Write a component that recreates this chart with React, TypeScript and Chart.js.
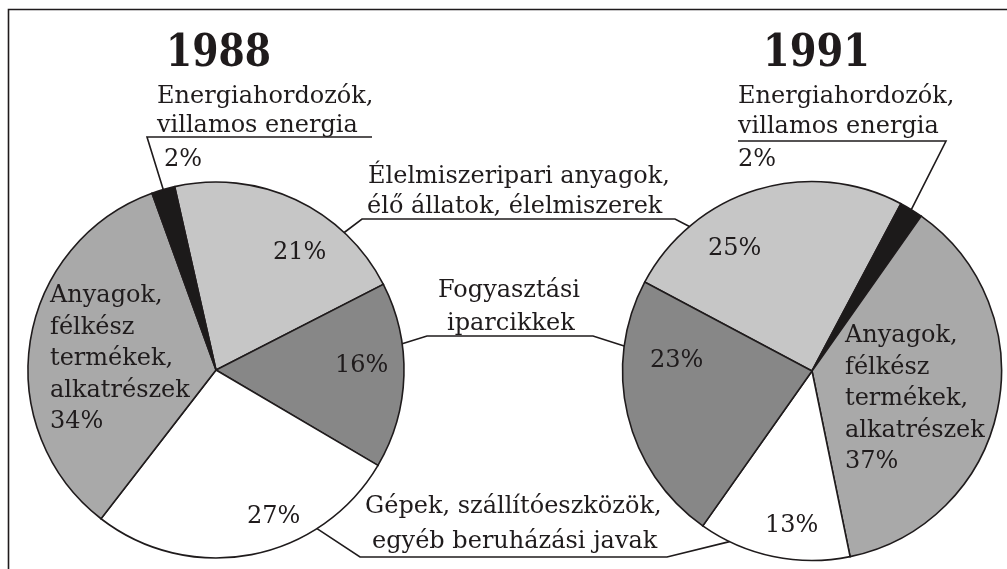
import React, { useEffect, useRef } from "react";
import { Chart, registerables } from "chart.js";
Chart.register(...registerables);

// ---- data ----
const categories = [
  "Élelmiszeripari anyagok, élő állatok, élelmiszerek",
  "Fogyasztási iparcikkek",
  "Gépek, szállítóeszközök, egyéb beruházási javak",
  "Anyagok, félkész termékek, alkatrészek",
  "Energiahordozók, villamos energia",
];
const years = ["1988", "1991"];
const values1988 = [21, 16, 27, 34, 2];
const values1991 = [25, 23, 13, 37, 2];
const sliceColors = ["#c6c6c6", "#878787", "#ffffff", "#a9a9a9", "#1c1a1a"];
// drawing order (clockwise) of the categories in each pie
const order1988 = [0, 1, 2, 3, 4];
const order1991 = [0, 4, 3, 2, 1];

const W = 1007;
const H = 569;
const INK = "#1f1b1c";
const FONT = '24px "DejaVu Serif"';
const TITLE_FONT = 'bold 45px "DejaVu Serif"';

function arcGeom(chart: any, catIdx: number, order: number[]) {
  const el = chart.getDatasetMeta(0).data[order.indexOf(catIdx)];
  return el.getProps(["x", "y", "startAngle", "endAngle", "outerRadius"], true);
}
function anglePt(chart: any, deg: number) {
  const el = chart.getDatasetMeta(0).data[0];
  const { x, y, outerRadius } = el.getProps(["x", "y", "outerRadius"], true);
  const a = ((deg - 90) * Math.PI) / 180;
  return [x + outerRadius * Math.cos(a), y + outerRadius * Math.sin(a)];
}
function midPt(chart: any, catIdx: number, order: number[]) {
  const g = arcGeom(chart, catIdx, order);
  const a = (g.startAngle + g.endAngle) / 2;
  return [g.x + g.outerRadius * Math.cos(a), g.y + g.outerRadius * Math.sin(a)];
}
function poly(ctx: CanvasRenderingContext2D, pts: number[][]) {
  ctx.beginPath();
  ctx.moveTo(pts[0][0], pts[0][1]);
  for (let i = 1; i < pts.length; i++) ctx.lineTo(pts[i][0], pts[i][1]);
  ctx.stroke();
}
function text(ctx: CanvasRenderingContext2D, s: string, x: number, y: number, font = FONT) {
  ctx.font = font;
  ctx.fillText(s, x, y);
}
function title(ctx: CanvasRenderingContext2D, s: string, x: number, y: number, targetWidth: number) {
  ctx.save();
  ctx.font = TITLE_FONT;
  const w = ctx.measureText(s).width;
  ctx.translate(x, y);
  ctx.scale(targetWidth / w, 1);
  ctx.fillText(s, 0, 0);
  ctx.restore();
}

const LW = 1.6;

const leftAnnot = {
  id: "leftAnnot",
  afterDraw(chart: any) {
    const ctx: CanvasRenderingContext2D = chart.ctx;
    const v = values1988;
    ctx.save();
    ctx.fillStyle = INK;
    ctx.strokeStyle = INK;
    ctx.textBaseline = "alphabetic";
    // frame
    ctx.lineWidth = 1.6;
    poly(ctx, [[8.5, H], [8.5, 9.5], [W, 9.5]]);
    ctx.lineWidth = LW;
    // title
    title(ctx, years[0], 166, 66, 105);
    // energy
    text(ctx, "Energiahordozók,", 157, 103);
    text(ctx, "villamos energia", 157, 132);
    poly(ctx, [midPt(chart, 4, order1988), [147, 137], [372, 137]]);
    text(ctx, v[4] + "%", 164, 166);
    // percents
    text(ctx, v[0] + "%", 273, 259);
    text(ctx, v[1] + "%", 335, 372);
    text(ctx, v[2] + "%", 247, 523);
    const an = ["Anyagok,", "félkész", "termékek,", "alkatrészek", v[3] + "%"];
    an.forEach((s, i) => text(ctx, s, 50, 302 + i * 31.5));
    // shared labels
    text(ctx, "Élelmiszeripari anyagok,", 368, 183);
    text(ctx, "élő állatok, élelmiszerek", 367, 213);
    text(ctx, "Fogyasztási", 438, 297);
    text(ctx, "iparcikkek", 447, 330);
    text(ctx, "Gépek, szállítóeszközök,", 365, 513);
    text(ctx, "egyéb beruházási javak", 372, 548);
    // left halves of connectors
    poly(ctx, [anglePt(chart, 43), [362, 219], [520, 219]]);
    poly(ctx, [anglePt(chart, 82), [427, 336], [510, 336]]);
    poly(ctx, [anglePt(chart, 147.5), [360, 557], [514, 557]]);
    ctx.restore();
  },
};

const rightAnnot = {
  id: "rightAnnot",
  afterDraw(chart: any) {
    const ctx: CanvasRenderingContext2D = chart.ctx;
    const v = values1991;
    ctx.save();
    ctx.fillStyle = INK;
    ctx.strokeStyle = INK;
    ctx.lineWidth = LW;
    title(ctx, years[1], 763, 66, 107);
    text(ctx, "Energiahordozók,", 738, 103);
    text(ctx, "villamos energia", 738, 133);
    poly(ctx, [[738, 141], [946, 141], midPt(chart, 4, order1991)]);
    text(ctx, v[4] + "%", 738, 166);
    text(ctx, v[0] + "%", 708, 255);
    text(ctx, v[1] + "%", 650, 367);
    text(ctx, v[2] + "%", 765, 532);
    const an = ["Anyagok,", "félkész", "termékek,", "alkatrészek", v[3] + "%"];
    an.forEach((s, i) => text(ctx, s, 845, 342 + i * 31.5));
    // right halves of connectors
    poly(ctx, [[520, 219], [675, 219], anglePt(chart, 319.7)]);
    poly(ctx, [[510, 336], [593, 336], anglePt(chart, 277.6)]);
    poly(ctx, [[514, 557], [667, 557], anglePt(chart, 205.8)]);
    ctx.restore();
  },
};

function makePie(canvas: HTMLCanvasElement, values: number[], order: number[], rotation: number,
  cx: number, cy: number, r: number, plugin: any) {
  const pad = r + 3;
  return new Chart(canvas, {
    type: "pie",
    data: {
      labels: order.map((i) => categories[i]),
      datasets: [
        {
          data: order.map((i) => values[i]),
          backgroundColor: order.map((i) => sliceColors[i]),
          borderColor: INK,
          borderWidth: LW,
          borderJoinStyle: "miter",
        } as any,
      ],
    },
    options: {
      responsive: false,
      animation: false,
      rotation,
      radius: r,
      layout: {
        padding: { left: cx - pad, right: W - cx - pad, top: cy - pad, bottom: H - cy - pad },
      },
      plugins: { legend: { display: false }, tooltip: { enabled: false } },
      events: [],
    } as any,
    plugins: [plugin],
  });
}

export default function App() {
  const leftRef = useRef<HTMLCanvasElement>(null);
  const rightRef = useRef<HTMLCanvasElement>(null);
  useEffect(() => {
    const a = makePie(leftRef.current!, values1988, order1988, -12.7, 216, 370, 188, leftAnnot);
    const b = makePie(rightRef.current!, values1991, order1991, -62, 812, 371, 189.5, rightAnnot);
    return () => {
      a.destroy();
      b.destroy();
    };
  }, []);
  const st: React.CSSProperties = { position: "absolute", left: 0, top: 0, width: W, height: H };
  return (
    <div style={{ position: "absolute", left: 0, top: 0, width: W, height: H, background: "#fff" }}>
      <canvas ref={leftRef} width={W} height={H} style={st} />
      <canvas ref={rightRef} width={W} height={H} style={st} />
    </div>
  );
}
